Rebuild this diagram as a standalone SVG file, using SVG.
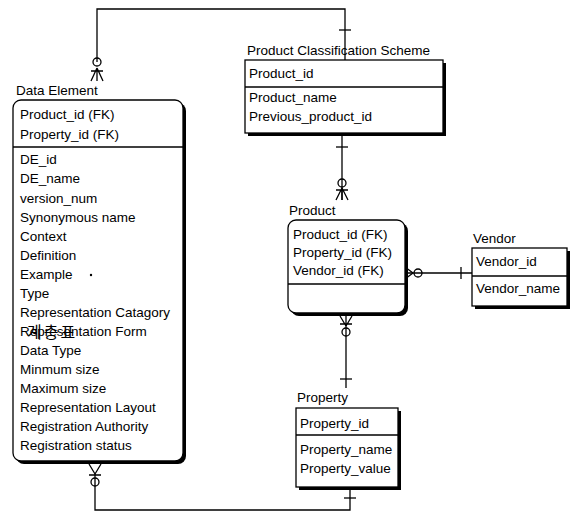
<svg xmlns="http://www.w3.org/2000/svg" width="571" height="519" viewBox="0 0 571 519">
<style>
text{font-family:"Liberation Sans",Arial,sans-serif;font-size:13.5px;fill:#000}
.box{fill:#fff;stroke:#000;stroke-width:1.3}
.sh{fill:#000}
.sep{stroke:#000;stroke-width:1.3}
.ln{fill:none;stroke:#000;stroke-width:1.3}
.ko{font-family:"Noto Sans CJK KR",sans-serif;font-size:16px;fill:#000}
</style>
<rect width="571" height="519" fill="#fff"/>
<g id="connectors">
  <path class="ln" d="M97,62 V9 H345 V60"/>
  <path class="ln" d="M339,30 H351"/>
  <circle class="ln" cx="97" cy="62" r="4" fill="#fff"/>
  <path class="ln" d="M91,71 H103 M97,68 L91,81 M97,68 V81 M97,68 L103,81"/>
  <path class="ln" d="M342,135 V200"/>
  <path class="ln" d="M336,147 H348"/>
  <circle class="ln" cx="342" cy="183" r="4" fill="#fff"/>
  <path class="ln" d="M336,190 H348 M342,188 L336,200 M342,188 V200 M342,188 L348,200"/>
  <path class="ln" d="M346,316 V388"/>
  <path class="ln" d="M340,379 H352"/>
  <path class="ln" d="M340,324 H352 M346,326 L340,316 M346,326 L352,316"/>
  <circle class="ln" cx="346" cy="332" r="4" fill="#fff"/>
  <path class="ln" d="M405,273 H472"/>
  <path class="ln" d="M413,273 L405,267 M413,273 L405,279"/>
  <circle class="ln" cx="418" cy="273" r="4" fill="#fff"/>
  <path class="ln" d="M461,267 V279"/>
  <path class="ln" d="M350,490 V510 H95 V474"/>
  <path class="ln" d="M344,498 H356"/>
  <path class="ln" d="M89,475 H101 M95,474 L89,464 M95,474 L101,464"/>
  <circle class="ln" cx="95" cy="482" r="4" fill="#fff"/>
</g>
<g id="data-element">
  <text x="16" y="95">Data Element</text>
  <rect class="sh" x="16" y="103" width="170" height="361" rx="8"/>
  <rect class="box" x="13" y="100" width="170" height="361" rx="8"/>
  <line class="sep" x1="13" y1="147" x2="183" y2="147"/>
  <text x="20" y="119">Product_id (FK)</text>
  <text x="20" y="139">Property_id (FK)</text>
  <text x="20" y="164">DE_id</text>
  <text x="20" y="183">DE_name</text>
  <text x="20" y="203">version_num</text>
  <text x="20" y="222">Synonymous name</text>
  <text x="20" y="241">Context</text>
  <text x="20" y="260">Definition</text>
  <text x="20" y="279">Example</text>
  <circle cx="91" cy="275" r="1.2" fill="#000"/>
  <text x="20" y="298">Type</text>
  <text x="20" y="317">Representation Catagory</text>
  <text x="20" y="336">Representation Form</text>
  <text class="ko" x="27" y="338" letter-spacing="2">계층표</text>
  <text x="20" y="355">Data Type</text>
  <text x="20" y="374">Minmum size</text>
  <text x="20" y="393">Maximum size</text>
  <text x="20" y="412">Representation Layout</text>
  <text x="20" y="431">Registration Authority</text>
  <text x="20" y="450">Registration status</text>
</g>
<g id="product-classification-scheme">
  <text x="247" y="55">Product Classification Scheme</text>
  <rect class="sh" x="248" y="63" width="198" height="73"/>
  <rect class="box" x="245" y="60" width="198" height="73"/>
  <line class="sep" x1="245" y1="87" x2="443" y2="87"/>
  <text x="249" y="78">Product_id</text>
  <text x="249" y="102">Product_name</text>
  <text x="249" y="121">Previous_product_id</text>
</g>
<g id="product">
  <text x="289" y="215">Product</text>
  <rect class="sh" x="291" y="223" width="117" height="93" rx="8"/>
  <rect class="box" x="288" y="220" width="117" height="93" rx="8"/>
  <line class="sep" x1="288" y1="284" x2="405" y2="284"/>
  <text x="293" y="239">Product_id (FK)</text>
  <text x="293" y="257">Property_id (FK)</text>
  <text x="293" y="275">Vendor_id (FK)</text>
</g>
<g id="vendor">
  <text x="473" y="243">Vendor</text>
  <rect class="sh" x="475" y="251" width="95" height="58"/>
  <rect class="box" x="472" y="248" width="95" height="58"/>
  <line class="sep" x1="472" y1="276" x2="567" y2="276"/>
  <text x="476" y="266">Vendor_id</text>
  <text x="476" y="293">Vendor_name</text>
</g>
<g id="property">
  <text x="297" y="402">Property</text>
  <rect class="sh" x="299" y="411" width="102" height="79"/>
  <rect class="box" x="296" y="408" width="102" height="79"/>
  <line class="sep" x1="296" y1="435" x2="398" y2="435"/>
  <text x="300" y="428">Property_id</text>
  <text x="300" y="454">Property_name</text>
  <text x="300" y="473">Property_value</text>
</g>
</svg>
